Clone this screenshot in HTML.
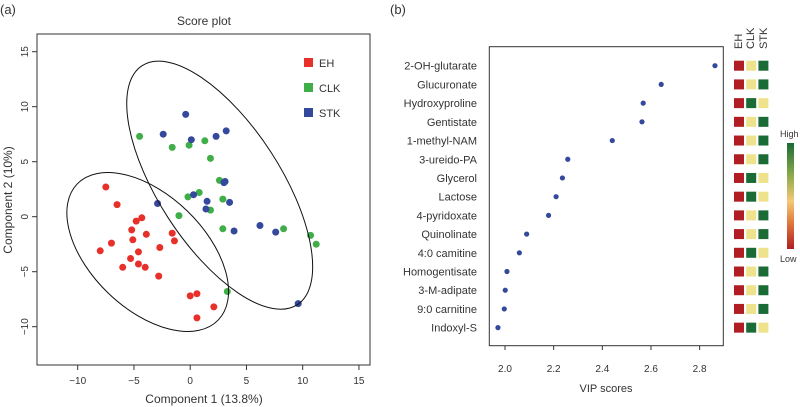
<!DOCTYPE html>
<html><head><meta charset="utf-8"><style>
html,body{margin:0;padding:0;background:#fff;}
svg{display:block;font-family:"Liberation Sans",sans-serif;}
</style></head><body>
<svg id="c" width="800" height="407" viewBox="0 0 800 407" xmlns="http://www.w3.org/2000/svg">
<text x="0" y="14" font-size="13" fill="#333">(a)</text>
<text x="390" y="14" font-size="13" fill="#333">(b)</text>
<text x="204" y="25" font-size="12" text-anchor="middle" fill="#333">Score plot</text>
<rect x="37" y="34" width="333" height="331" fill="none" stroke="#333" stroke-width="1"/>
<g id="left"></g>
<text x="204" y="403" font-size="12" text-anchor="middle" fill="#333">Component 1 (13.8%)</text>
<text transform="translate(12,200) rotate(-90)" font-size="12" text-anchor="middle" fill="#333">Component 2 (10%)</text>
<ellipse cx="219.7" cy="185.2" rx="142.5" ry="61" transform="rotate(57 219.7 185.2)" fill="none" stroke="#111" stroke-width="1"/>
<ellipse cx="147.7" cy="252" rx="98" ry="57" transform="rotate(44 147.7 252)" fill="none" stroke="#111" stroke-width="1"/>
<g>
<rect x="304" y="58" width="9" height="9" fill="#e8302a"/>
<text x="319" y="67" font-size="11" fill="#333">EH</text>
<rect x="304" y="83" width="9" height="9" fill="#3fae49"/>
<text x="319" y="92" font-size="11" fill="#333">CLK</text>
<rect x="304" y="108" width="9" height="9" fill="#34489c"/>
<text x="319" y="117" font-size="11" fill="#333">STK</text>
</g>
<rect x="489.3" y="46.7" width="234" height="299" fill="none" stroke="#333" stroke-width="1"/>
<g id="right"></g>
<text x="606" y="392" font-size="11" text-anchor="middle" fill="#333">VIP scores</text>
<text transform="translate(742,49) rotate(-90)" font-size="11" fill="#333">EH</text>
<text transform="translate(754,49) rotate(-90)" font-size="11" fill="#333">CLK</text>
<text transform="translate(767,49) rotate(-90)" font-size="11" fill="#333">STK</text>
<defs><linearGradient id="cb" x1="0" y1="0" x2="0" y2="1">
<stop offset="0" stop-color="#1a6b35"/><stop offset="0.3" stop-color="#8aa94a"/><stop offset="0.55" stop-color="#f5c878"/><stop offset="0.75" stop-color="#e07a3c"/><stop offset="1" stop-color="#b01e23"/></linearGradient></defs>
<rect x="787" y="143" width="7" height="106" fill="url(#cb)"/>
<text x="780" y="137" font-size="9" fill="#333">High</text>
<text x="780" y="262" font-size="9" fill="#333">Low</text>
</svg>
<script>
const ehX=[-7.5,-6.5,-4.8,-4.3,-5.2,-5.1,-3.9,-7.0,-8.0,-4.6,-5.3,-4.6,-6.0,-4.0,-2.7,-1.6,-1.4,-2.8,0,0.6,2.1,0.6];
const ehY=[2.7,1.1,-0.4,-0.1,-1.2,-2.1,-1.6,-2.4,-3.1,-3.2,-3.8,-4.3,-4.6,-4.6,-2.8,-1.5,-2.2,-5.4,-7.2,-7.0,-8.2,-9.2];
const clkX=[-4.5,-1.6,-0.1,1.3,1.8,2.6,-0.2,0.8,2.9,1.8,-1.0,2.9,8.3,10.7,11.2,3.3];
const clkY=[7.3,6.3,6.5,6.9,5.3,3.3,1.8,2.2,1.6,0.6,0.1,-1.1,-1.1,-1.7,-2.5,-6.8];
const stkX=[-0.4,-2.4,0.1,2.3,3.2,3.1,3.0,0.3,1.5,1.4,3.5,-2.9,3.9,6.2,7.6,9.6];
const stkY=[9.3,7.5,7.0,7.3,7.8,3.2,3.1,2.0,1.4,0.7,1.3,1.2,-1.3,-0.8,-1.4,-7.9];
const xTicks=[-10,-5,0,5,10,15];
const yTicks=[-10,-5,0,5,10,15];
const metabolites=["2-OH-glutarate","Glucuronate","Hydroxyproline","Gentistate","1-methyl-NAM","3-ureido-PA","Glycerol","Lactose","4-pyridoxate","Quinolinate","4:0 camitine","Homogentisate","3-M-adipate","9:0 carnitine","Indoxyl-S"];
const vip=[2.863,2.642,2.568,2.563,2.441,2.258,2.236,2.210,2.179,2.089,2.059,2.008,2.001,1.997,1.971];
const vipTicks=[2.0,2.2,2.4,2.6,2.8];
const heatEH=[0,0,0,0,0,0,0,0,0,0,0,0,0,0,0];
const heatCLK=[1,1,2,1,1,1,2,2,1,1,2,1,1,1,2];
const heatSTK=[2,2,1,2,2,2,1,1,2,2,1,2,2,2,1];
const NS="http://www.w3.org/2000/svg";
function mk(p,tag,a){const e=document.createElementNS(NS,tag);for(const k in a)e.setAttribute(k,a[k]);p.appendChild(e);return e;}
const sx=v=>190.2+v*11.25, sy=v=>216.7-v*11;
const L=document.getElementById('left');
xTicks.forEach(t=>{
 const l=mk(L,'line',{x1:sx(t),x2:sx(t),y1:365,y2:370,stroke:'#333'});
 
 
 const tx=mk(L,'text',{x:sx(t),y:384,'font-size':10,'text-anchor':'middle',fill:'#333'});
 tx.textContent=t<0?'\u2212'+(-t):t;
 
 
});
yTicks.forEach(t=>{
 const l=mk(L,'line',{x1:32,x2:37,y1:sy(t),y2:sy(t),stroke:'#333'});
 
 
 const tx=mk(L,'text',{transform:`translate(28,${sy(t)}) rotate(-90)`,'font-size':10,'text-anchor':'middle',fill:'#333'});
 tx.textContent=t<0?'\u2212'+(-t):t;
 
 
});
[[ehX,ehY,'#e8302a','point-eh'],[clkX,clkY,'#3fae49','point-clk'],[stkX,stkY,'#34489c','point-stk']].forEach(([xs,ys,c,n])=>{
 xs.forEach((x,i)=>{
  const p=mk(L,'circle',{cx:sx(x),cy:sy(ys[i]),r:3.5,fill:c});
  
  
 });
});
const R=document.getElementById('right');
const vx=v=>505+(v-2.0)*243.3, ry=i=>65.7+i*18.71;
vipTicks.forEach(t=>{
 const l=mk(R,'line',{x1:vx(t),x2:vx(t),y1:345.7,y2:350,stroke:'#333'});
 
 
 const tx=mk(R,'text',{x:vx(t),y:372,'font-size':10,'text-anchor':'middle',fill:'#333'});
 tx.textContent=t.toFixed(1);
 
 
});
const hc=['#b01e23','#eee28c','#1a6b35'];
metabolites.forEach((m,i)=>{
 const tx=mk(R,'text',{x:477,y:ry(i)+4,'font-size':11,'text-anchor':'end',fill:'#333'});
 tx.textContent=m;
 
 
 const p=mk(R,'circle',{cx:vx(vip[i]),cy:ry(i),r:2.6,fill:'#34489c'});
 
 
 [heatEH,heatCLK,heatSTK].forEach((arr,j)=>{
  const r=mk(R,'rect',{x:734+j*12.2,y:ry(i)-5,width:10,height:10,fill:hc[arr[i]]});
  
  
 });
});
</script>
</body></html>
